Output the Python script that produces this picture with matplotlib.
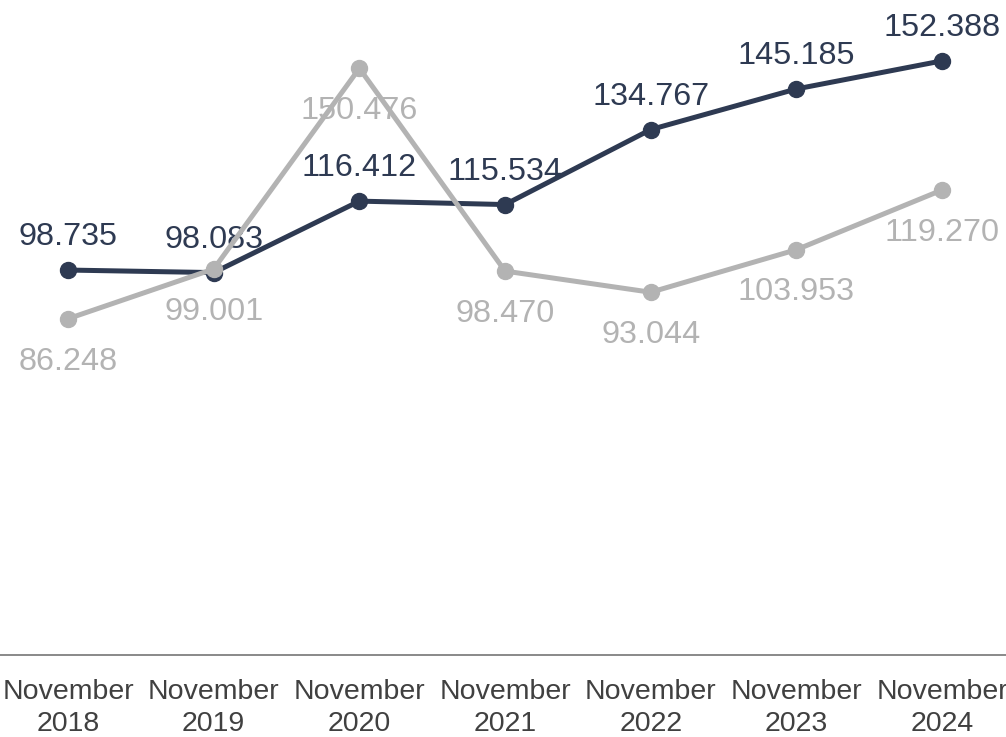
import matplotlib
matplotlib.use("Agg")
import matplotlib.pyplot as plt

# chart data
years = ["2018", "2019", "2020", "2021", "2022", "2023", "2024"]
dark_vals = [98.735, 98.083, 116.412, 115.534, 134.767, 145.185, 152.388]
gray_vals = [86.248, 99.001, 150.476, 98.470, 93.044, 103.953, 119.270]

navy = "#2e3a52"
grey = "#b3b3b3"

plt.rcParams['font.family'] = ['Liberation Sans', 'DejaVu Sans']

fig = plt.figure(figsize=(10.06, 7.37), dpi=100)
# axes slightly wider than the figure so points land where they are in the picture
ax = fig.add_axes([-4.8 / 1006, 82 / 737, 1019.7 / 1006, 655 / 737])

x = list(range(len(years)))
ax.plot(x, dark_vals, color=navy, lw=3.6, marker="o", ms=11.5, zorder=3, clip_on=False)
ax.plot(x, gray_vals, color=grey, lw=3.6, marker="o", ms=11.5, zorder=4, clip_on=False)

# labels: navy above, grey below
for i in x:
    ax.annotate(f"{dark_vals[i]:.3f}", (i, dark_vals[i]), xytext=(0, 18), textcoords="offset points",
                ha="center", va="baseline", fontsize=23.3, color=navy, zorder=1, annotation_clip=False)
    ax.annotate(f"{gray_vals[i]:.3f}", (i, gray_vals[i]), xytext=(0, -20), textcoords="offset points",
                ha="center", va="top", fontsize=23.3, color=grey, zorder=1, annotation_clip=False)

ax.set_xlim(-0.5, 6.5)
ax.set_ylim(0, 168)
ax.set_xticks(x)
ax.set_xticklabels(["November\n" + y for y in years], fontsize=20.5, color="#404040", linespacing=1.32)
ax.tick_params(axis="x", length=0, pad=17)
ax.set_yticks([])

for side in ["top", "right", "left"]:
    ax.spines[side].set_visible(False)
ax.spines["bottom"].set_color("#808080")
ax.spines["bottom"].set_linewidth(1.3)

fig.savefig("out.png", dpi=100)
